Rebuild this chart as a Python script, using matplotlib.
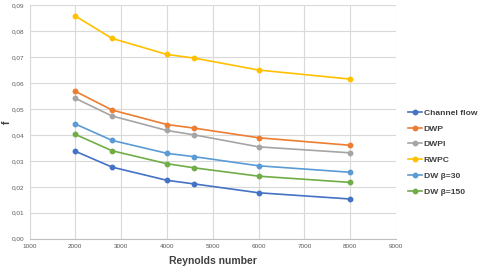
import matplotlib
matplotlib.use("Agg")
import matplotlib.pyplot as plt
from matplotlib.ticker import FuncFormatter

reynolds = [2000, 2800, 4000, 4600, 6000, 8000]
series_names = ["Channel flow", "DWP", "DWPI", "RWPC", "DW β=30", "DW β=150"]
channel_flow = [0.0337, 0.0276, 0.0225, 0.0211, 0.0177, 0.0153]
dwp = [0.0568, 0.0496, 0.0440, 0.0426, 0.0389, 0.0360]
dwpi = [0.0541, 0.0473, 0.0417, 0.0400, 0.0354, 0.0331]
rwpc = [0.0858, 0.0772, 0.0710, 0.0696, 0.0650, 0.0615]
dw_b30 = [0.0442, 0.0379, 0.0329, 0.0316, 0.0281, 0.0256]
dw_b150 = [0.0402, 0.0339, 0.0289, 0.0273, 0.0241, 0.0217]
colors = ["#4472C4", "#ED7D31", "#A5A5A5", "#FFC000", "#5B9BD5", "#70AD47"]
x_ticks = list(range(1000, 9001, 1000))
y_ticks = [i / 100 for i in range(0, 10)]

plt.rcParams["font.family"] = ["Liberation Sans", "DejaVu Sans"]

fig = plt.figure(figsize=(4.8, 2.66), dpi=100)
ax = fig.add_axes([0.0615, 0.1026, 0.7635, 0.878])
data = [channel_flow, dwp, dwpi, rwpc, dw_b30, dw_b150]
for name, vals, c in zip(series_names, data, colors):
    ax.plot(reynolds, vals, color=c, lw=1.2, marker="o", ms=3.2, label=name)

ax.set_xlim(1000, 9000)
ax.set_ylim(0, 0.09)
ax.set_xticks(x_ticks)
ax.set_yticks(y_ticks)
ax.yaxis.set_major_formatter(FuncFormatter(lambda v, p: f"{v:.2f}".replace(".", ",")))
ax.tick_params(labelsize=4.6, colors="#595959", length=0, pad=4)
ax.grid(True, color="#D9D9D9", lw=0.8)
ax.set_axisbelow(True)
for s in ["top", "right"]:
    ax.spines[s].set_visible(False)
ax.spines["left"].set_color("#D9D9D9")
ax.spines["bottom"].set_color("#BFBFBF")
ax.set_xlabel("Reynolds number", fontsize=7.5, fontweight="bold", color="#404040", labelpad=5)
ax.set_ylabel("f", fontsize=7.5, fontweight="bold", color="#404040", rotation=90)
ax.yaxis.set_label_coords(-0.048, 0.5)

leg = fig.legend(loc="upper left", bbox_to_anchor=(0.851, 0.59), frameon=False,
                 fontsize=6.1, handlelength=1.6, handletextpad=0.2, labelspacing=0.92,
                 borderaxespad=0, borderpad=0)
for t in leg.get_texts():
    t.set_color("#404040")
    t.set_fontweight("bold")

fig.savefig("out.png", dpi=100)
